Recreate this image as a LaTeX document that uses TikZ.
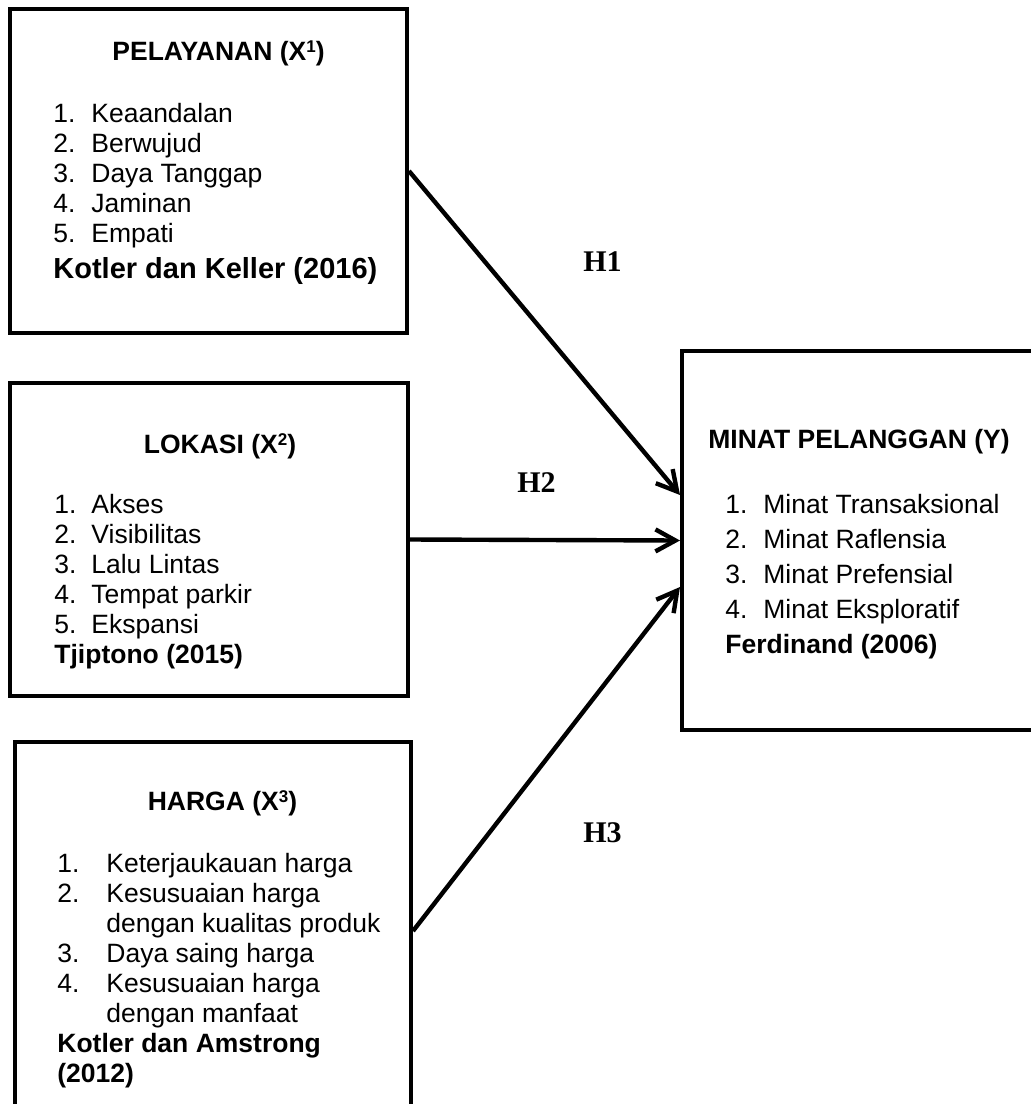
\documentclass[tikz,border=0pt]{standalone}
\usepackage{fontspec}
\setmainfont{Liberation Sans}
\newfontfamily\hfont{Liberation Serif}
\usetikzlibrary{arrows.meta}
\newcommand{\pangkat}[1]{\raisebox{3.6pt}{\fontsize{8.5}{9}\selectfont #1}}
\tikzset{
  kotak/.style={draw, line width=2pt, inner sep=0pt},
  judul/.style={inner sep=0pt, anchor=base, font=\fontsize{13.25}{15}\selectfont\bfseries},
  isi/.style={inner sep=0pt, anchor=base west, font=\fontsize{13.25}{15}\selectfont},
  hipo/.style={inner sep=0pt, anchor=base west, font=\hfont\fontsize{15}{18}\selectfont\bfseries},
  panah/.style={line width=2.2pt, -{Straight Barb[length=10pt,width=11pt]}}
}
\begin{document}
\begin{tikzpicture}[x=0.5pt,y=-0.5pt]
            \useasboundingbox (0,0) rectangle (1030,1104);
            %kotak pelayanan
            \node[kotak, minimum width=198.5pt, minimum height=162pt] (x1) at (208.5,171) {};
            \node[judul] (x1judul) at (218.5,60) {PELAYANAN (X\pangkat{1})};
            \node[isi] (x1isi) at (53,122) {\begin{tabular}[t]{@{}p{19pt}@{}l@{}}
                1. & Keaandalan\\ 2. & Berwujud\\ 3. & Daya Tanggap\\
                4. & Jaminan\\ 5. & Empati\\[3pt]
                \multicolumn{2}{@{}l@{}}{\fontsize{14.5}{15}\selectfont\bfseries Kotler dan Keller (2016)}
                \end{tabular}};
            %kotak lokasi
            \node[kotak, minimum width=199pt, minimum height=156.5pt] (x2) at (209,539.5) {};
            \node[judul] (x2judul) at (220,453) {LOKASI (X\pangkat{2})};
            \node[isi] (x2isi) at (54,513) {\begin{tabular}[t]{@{}p{18.5pt}@{}l@{}}
                1. & Akses\\ 2. & Visibilitas\\ 3. & Lalu Lintas\\
                4. & Tempat parkir\\ 5. & Ekspansi\\
                \multicolumn{2}{@{}l@{}}{\bfseries Tjiptono (2015)}
                \end{tabular}};
            %kotak harga
            \node[kotak, minimum width=198pt, minimum height=189pt] (x3) at (213,931) {};
            \node[judul] (x3judul) at (222.5,810) {HARGA (X\pangkat{3})};
            \node[isi] (x3isi) at (57,872) {\begin{tabular}[t]{@{}p{24.5pt}@{}l@{}}
                1. & Keterjaukauan harga\\ 2. & Kesusuaian harga\\ & dengan kualitas produk\\
                3. & Daya saing harga\\ 4. & Kesusuaian harga\\ & dengan manfaat\\
                \multicolumn{2}{@{}l@{}}{\bfseries Kotler dan Amstrong}\\
                \multicolumn{2}{@{}l@{}}{\bfseries (2012)}
                \end{tabular}};
            %kotak minat pelanggan
            \node[kotak, minimum width=181.5pt, minimum height=189.5pt] (y) at (863.5,540.5) {};
            \node[judul, anchor=base west] (yjudul) at (708,448) {MINAT PELANGGAN (Y)};
            \node[isi, font=\fontsize{13.25}{17.5}\selectfont] (yisi) at (725,513) {\begin{tabular}[t]{@{}p{19pt}@{}l@{}}
                1. & Minat Transaksional\\ 2. & Minat Raflensia\\
                3. & Minat Prefensial\\ 4. & Minat Eksploratif\\
                \multicolumn{2}{@{}l@{}}{\bfseries Ferdinand (2006)}
                \end{tabular}};
            %panah hipotesis
            \draw[panah] (x1.east) -- ([yshift=22.75pt]y.west);
            \draw[panah] (x2.east) -- (y.west);
            \draw[panah] (x3.east) -- ([yshift=-23.25pt]y.west);
            \node[hipo] (h1) at (583,271) {H1};
            \node[hipo] (h2) at (517,492) {H2};
            \node[hipo] (h3) at (583,842) {H3};
\end{tikzpicture}
\end{document}
